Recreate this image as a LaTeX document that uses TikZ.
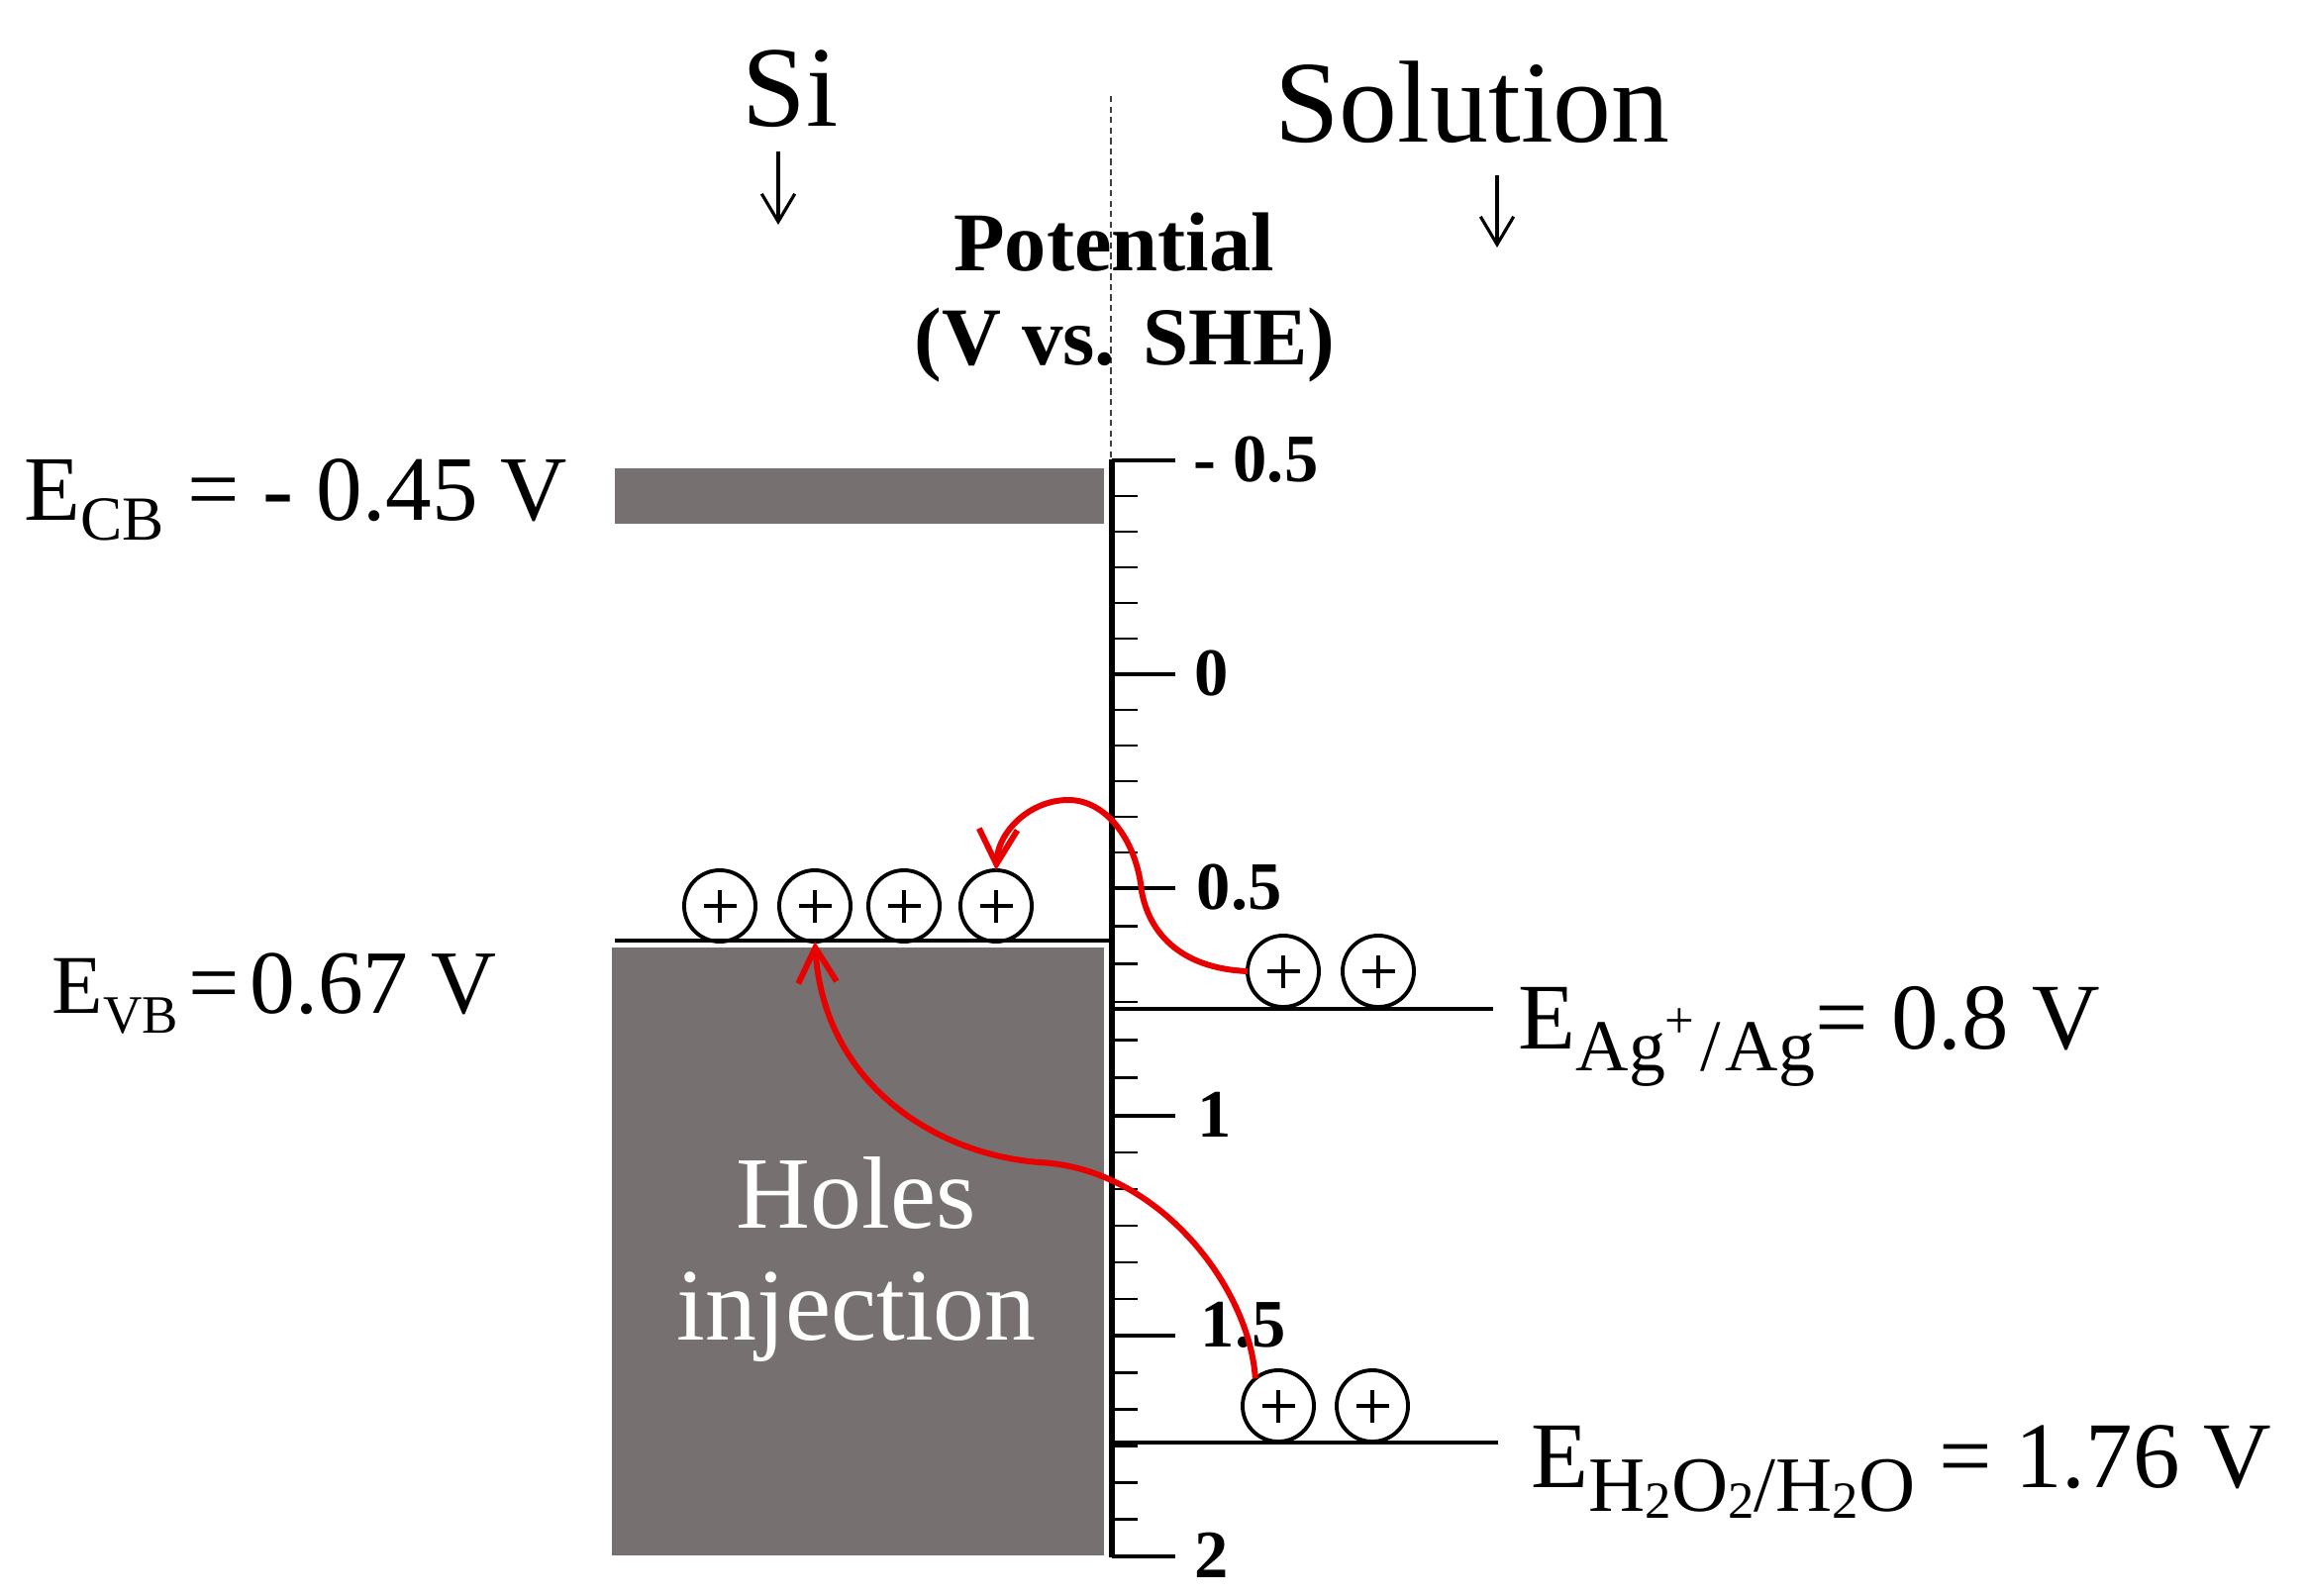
\documentclass[tikz,border=0pt]{standalone}
\usepackage{fontspec}
\setmainfont{Liberation Serif}
\usetikzlibrary{arrows.meta}
\definecolor{bandgray}{RGB}{118,113,112}
\definecolor{arrred}{RGB}{232,0,0}
\newcommand\subtwo{\raisebox{-0.08em}{\fontsize{15}{16}\selectfont 2}}
\begin{document}
\begin{tikzpicture}[x=0.01cm,y=-0.01cm,
  hole/.style={circle,draw=black,line width=1.1pt,minimum size=0.72cm,inner sep=0pt,outer sep=0pt,
    path picture={
      \draw[line width=1.25pt] ([xshift=-0.165cm]path picture bounding box.center) -- ++(0.33cm,0);
      \draw[line width=1.25pt] ([yshift=-0.165cm]path picture bounding box.center) -- ++(0,0.33cm);
    }},
  level/.style={line width=1.3pt},
  majortick/.style={line width=1.4pt},
  minortick/.style={line width=0.8pt},
  ticklabel/.style={anchor=base west,inner sep=0pt,font=\fontsize{19.5}{20}\selectfont\bfseries},
  redarrow/.style={draw=arrred,line width=1.7pt,-{Straight Barb[length=10pt,width=11pt]}},
  downarrow/.style={line width=0.9pt,-{Straight Barb[length=8pt,width=9.5pt]}},
  lbl/.style={anchor=base west,inner sep=0pt},
  ctext/.style={anchor=base,inner sep=0pt},
]
\useasboundingbox (0,0) rectangle (2330,1612);

% bands
\fill[bandgray] (621,473) rectangle (1115,529);
\fill[bandgray] (618,957) rectangle (1115,1571);

% titles
\node[ctext,font=\fontsize{33}{36}\selectfont] (si) at (798,127) {Si};
\node[ctext,font=\fontsize{33.5}{36}\selectfont] (sol) at (1487,143) {Solution};
\coordinate (siA) at (786,153);
\coordinate (siB) at (786,227);
\coordinate (solA) at (1512,177);
\coordinate (solB) at (1512,250);
\draw[downarrow] (siA) -- (siB);
\draw[downarrow] (solA) -- (solB);

% dotted separator
\coordinate (dotTop) at (1122,97);
\coordinate (dotBot) at (1122,462);
\draw[black!75,line width=0.5pt,dash pattern=on 1.8pt off 1.2pt] (dotTop) -- (dotBot);

\node[ctext,font=\fontsize{24}{26}\selectfont\bfseries] (pot) at (1125,273) {Potential};
\node[ctext,font=\fontsize{23.6}{26}\selectfont\bfseries] (she) at (1136,368) {(V vs. SHE)};

% axis
\foreach \a/\b in {465/681,681/897,897/1127,1127/1349,1349/1572}{
  \foreach \k in {1,...,5}{
    \draw[minortick] (1123,{\a+(\b-\a)*\k/6}) -- (1149,{\a+(\b-\a)*\k/6});
  }
}
\foreach \y in {465,681,897,1127,1349,1572}{
  \draw[majortick] (1123,\y) -- (1187,\y);
}
\draw[line width=1.5pt] (1123,464) -- (1123,1573);

\node[ticklabel] (tm05) at (1205,486) {- 0.5};
\node[ticklabel] (t0) at (1206,702) {0};
\node[ticklabel] (t05) at (1208,918) {0.5};
\node[ticklabel] (t1) at (1209,1148) {1};
\node[ticklabel] (t15) at (1212,1360) {1.5};
\node[ticklabel] (t2) at (1206,1593) {2};

% level lines
\draw[level] (621,950) -- (1123,950);
\draw[level] (1123,1019) -- (1508,1019);
\draw[level] (1123,1457) -- (1513,1457);

% holes
\node[hole] (hV1) at (727,915) {};
\node[hole] (hV2) at (823,915) {};
\node[hole] (hV3) at (913,915) {};
\node[hole] (hV4) at (1006,915) {};
\node[hole] (hA1) at (1296,981) {};
\node[hole] (hA2) at (1392,981) {};
\node[hole] (hH1) at (1291,1420) {};
\node[hole] (hH2) at (1386,1420) {};

% band text
\node[ctext,text=white,font=\fontsize{29.5}{32}\selectfont] (holes) at (865,1240) {Holes};
\node[ctext,text=white,font=\fontsize{29.5}{32}\selectfont] (inj) at (865,1353) {injection};

% energy labels
\node[lbl,font=\fontsize{26.5}{30}\selectfont] (ecb) at (24,525)
  {E\raisebox{-0.22em}{\fontsize{18}{20}\selectfont CB} = - 0.45 V};
\node[lbl,font=\fontsize{26}{30}\selectfont] (evb) at (52,1023)
  {{\fontsize{24}{28}\selectfont E}\raisebox{-0.22em}{\fontsize{15.5}{20}\selectfont VB}\kern3pt=\kern3pt0.67 V};
\node[lbl,font=\fontsize{27}{30}\selectfont] (eag) at (1533,1059)
  {E\raisebox{-0.24em}{\fontsize{21}{22}\selectfont Ag\raisebox{0.45em}{\fontsize{15}{16}\selectfont +}\kern1.5pt/\kern1.5pt Ag}= 0.8 V};
\node[lbl,font=\fontsize{27}{30}\selectfont] (eh) at (1546,1502)
  {E\raisebox{-0.26em}{\fontsize{22.5}{24}\selectfont H\subtwo O\subtwo/H\subtwo O} = 1.76 V};

% red arrows
\draw[redarrow] (hA1.west) .. controls (1190,978) and (1160,940) .. (1153,900)
  .. controls (1148,850) and (1118,808) .. (1079,808)
  .. controls (1040,808) and (1008,840) .. (hV4.north);
\draw[redarrow] (hH1.130) .. controls (1262,1300) and (1170,1180) .. (1050,1174)
  .. controls (945,1166) and (832,1095) .. (hV2.south);
\end{tikzpicture}
\end{document}
